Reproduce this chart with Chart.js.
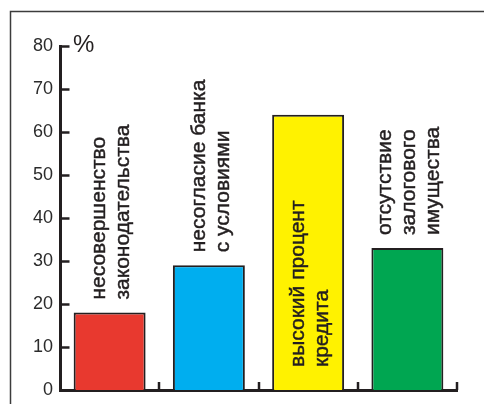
<!DOCTYPE html>
<html>
<head>
<meta charset="utf-8">
<script src="https://cdn.jsdelivr.net/npm/chart.js@4"></script>
<style>
  html, body { margin: 0; padding: 0; background: #fff; }
  canvas { display: block; }
</style>
</head>
<body>
<canvas id="c" width="484" height="404"></canvas>
<script>
// Reasons for refusing a loan, share of respondents
const categories = [
  ['несовершенство', 'законодательства'],
  ['несогласие банка', 'с условиями'],
  ['высокий процент', 'кредита'],
  ['отсутствие', 'залогового', 'имущества']
];
const shares = [18, 29, 64, 33];
const barColors = ['#e8392f', '#00aeef', '#fff200', '#00a651'];
const yTicks = [0, 10, 20, 30, 40, 50, 60, 70, 80];
const unitLabel = '%';

const INK = '#231f20';
const LABEL_FONT = '21px "Liberation Sans", Arial, sans-serif';

const decor = {
  id: 'decor',
  beforeDraw(chart) {
    const ctx = chart.ctx;
    ctx.save();
    ctx.fillStyle = '#fff';
    ctx.fillRect(0, 0, chart.width, chart.height);
    // outer frame (left and top edges visible)
    ctx.strokeStyle = '#3c3c3c';
    ctx.lineWidth = 1.5;
    ctx.strokeRect(10.5, 11.5, chart.width + 20, chart.height + 20);
    ctx.restore();
  },
  afterDraw(chart) {
    const ctx = chart.ctx;
    const x = chart.scales.x, y = chart.scales.y;
    const area = chart.chartArea;
    ctx.save();
    ctx.strokeStyle = INK;
    ctx.lineWidth = 2.5;
    ctx.lineCap = 'butt';

    // inward tick marks on the value axis
    y.ticks.forEach(t => {
      if (t.value === y.min) return;
      const py = Math.round(y.getPixelForValue(t.value)) + 0.5;
      ctx.beginPath();
      ctx.moveTo(area.left, py);
      ctx.lineTo(area.left + 9.5, py);
      ctx.stroke();
    });

    // short separators between categories
    const half = (x.getPixelForValue(1) - x.getPixelForValue(0)) / 2;
    for (let i = 0; i < categories.length; i++) {
      const px = Math.round(x.getPixelForValue(i) + half);
      ctx.beginPath();
      ctx.moveTo(px, area.bottom);
      ctx.lineTo(px, area.bottom - 8);
      ctx.stroke();
    }

    // unit sign next to the top of the axis
    ctx.fillStyle = INK;
    ctx.font = '24px "Liberation Sans", Arial, sans-serif';
    ctx.textAlign = 'left';
    ctx.textBaseline = 'alphabetic';
    ctx.fillText(unitLabel, area.left + 13, y.getPixelForValue(80) + 6);

    // vertical category captions
    const meta = chart.getDatasetMeta(0);
    ctx.font = LABEL_FONT;
    ctx.textBaseline = 'middle';
    ctx.lineWidth = 0.45;
    const lineGap = 24;
    meta.data.forEach((bar, i) => {
      const lines = categories[i];
      const longest = Math.max(...lines.map(l => ctx.measureText(l).width));
      let start = bar.y - 13;
      if (start - longest < area.top) start = bar.base - 23;
      ctx.save();
      ctx.translate(bar.x + 2, start);
      ctx.rotate(-Math.PI / 2);
      lines.forEach((line, k) => {
        const off = (k - (lines.length - 1) / 2) * lineGap;
        ctx.fillText(line, 0, off);
        ctx.strokeText(line, 0, off);
      });
      ctx.restore();
    });
    ctx.restore();
  }
};

new Chart(document.getElementById('c'), {
  type: 'bar',
  data: {
    labels: categories,
    datasets: [{
      data: shares,
      backgroundColor: barColors,
      borderColor: INK,
      borderWidth: 2,
      borderSkipped: 'start',
      barPercentage: 0.725,
      categoryPercentage: 1
    }]
  },
  options: {
    responsive: false,
    devicePixelRatio: 1,
    animation: false,
    layout: { padding: { top: 46, right: 27, left: 0, bottom: 0 } },
    plugins: { legend: { display: false }, tooltip: { enabled: false } },
    scales: {
      x: {
        z: 1,
        grid: { display: false },
        border: { display: true, color: INK, width: 3 },
        ticks: { display: false },
        afterFit(s) { s.height = 14; s.paddingLeft = 0; s.paddingRight = 0; }
      },
      y: {
        z: 1,
        min: yTicks[0],
        max: yTicks[yTicks.length - 1],
        afterBuildTicks(s) { s.ticks = yTicks.map(v => ({ value: v })); },
        grid: { display: false, drawTicks: false },
        border: { display: true, color: INK, width: 3 },
        ticks: {
          padding: 7,
          color: '#2b2b2b',
          font: { family: '"Liberation Sans", Arial, sans-serif', size: 18 }
        },
        afterFit(s) { s.width = 60; s.paddingTop = 0; s.paddingBottom = 0; }
      }
    }
  },
  plugins: [decor]
});
</script>
</body>
</html>
